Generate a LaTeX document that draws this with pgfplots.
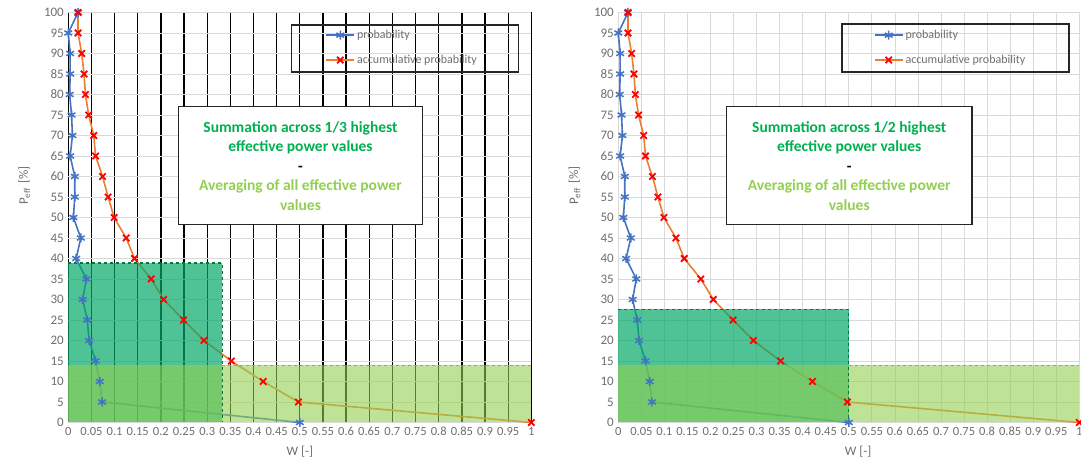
\documentclass[border=0pt]{standalone}
\usepackage{fontspec}
\setmainfont{Carlito}
\usepackage{pgfplots}
\usepackage{pgfplotstable}
\pgfplotsset{compat=1.18}
\definecolor{pblue}{RGB}{68,114,196}
\definecolor{porange}{RGB}{237,125,49}
\definecolor{pred}{RGB}{255,0,0}
\definecolor{dkfill}{RGB}{5,169,105}
\definecolor{dkborder}{RGB}{0,120,60}
\definecolor{ltfill}{RGB}{146,208,80}
\definecolor{ltborder}{RGB}{140,170,120}
\definecolor{tgray}{RGB}{110,110,110}
\definecolor{gridgray}{RGB}{217,217,217}
\definecolor{txtgreen}{RGB}{0,176,80}
\definecolor{txtlight}{RGB}{146,208,80}

\pgfplotstableread{
w p
0.021 100
0.000 95
0.004 90
0.004 85
0.003 80
0.007 75
0.009 70
0.004 65
0.014 60
0.014 55
0.011 50
0.027 45
0.017 40
0.039 35
0.031 30
0.041 25
0.045 20
0.059 15
0.068 10
0.073 5
0.500 0
}\prob

\pgfplotstableread{
w p
0.021 100
0.021 95
0.029 90
0.034 85
0.037 80
0.044 75
0.055 70
0.059 65
0.074 60
0.086 55
0.099 50
0.125 45
0.143 40
0.179 35
0.206 30
0.249 25
0.293 20
0.352 15
0.421 10
0.497 5
1.000 0
}\cum

\pgfplotsset{
  base/.style={
    scale only axis, height=410pt,
    xmin=0, xmax=1, ymin=0, ymax=100,
    clip=false,
    axis line style={draw=none},
    tick style={draw=none},
    xtick={0,0.05,0.1,0.15,0.2,0.25,0.3,0.35,0.4,0.45,0.5,0.55,0.6,0.65,0.7,0.75,0.8,0.85,0.9,0.95,1},
    ytick={0,5,10,15,20,25,30,35,40,45,50,55,60,65,70,75,80,85,90,95,100},
    /pgf/number format/assume math mode=true,
    xticklabel style={/pgf/number format/fixed, /pgf/number format/precision=2, yshift=-1pt, font=\fontsize{12.5}{14}\selectfont},
    yticklabel style={xshift=-1pt, font=\fontsize{13}{15}\selectfont},
    tick label style={text=tgray},
    xmajorgrids, ymajorgrids,
    xlabel={W [-]},
    ylabel={P\textsubscript{eff}\,\,[\%]},
    label style={font=\fontsize{13}{15}\selectfont, text=tgray},
    ylabel style={at={(axis description cs:-0.095,0.578)}, anchor=center},
    legend cell align=left,
    legend style={draw=none, fill=none, inner sep=0pt, anchor=north west,
      font=\fontsize{12}{14}\selectfont, text=tgray, row sep=11pt},
    legend image code/.code={\draw[mark repeat=2,mark phase=2,##1] plot coordinates {(0pt,0pt)(14pt,0pt)(28pt,0pt)};},
  },
  pb/.style={pblue, line width=1.6pt, mark=asterisk, mark size=4.5pt, mark options={line width=1.5pt}},
  pc/.style={porange, line width=1.6pt, mark=x, mark size=4.5pt, mark options={pred, line width=1.8pt}},
}

\begin{document}
\begin{tikzpicture}
\path[use as bounding box] (0,0) rectangle (1081pt,460pt);

% left chart
\begin{axis}[base, at={(68.3pt,37.5pt)}, anchor=south west, width=463pt,
  major x grid style={black, line width=1.3pt},
  major y grid style={gridgray, line width=0.8pt},
  xlabel style={at={(axis description cs:0.5,-0.07)}, anchor=center},
  legend style={at={(axis description cs:0.555,0.962)}}]
\addplot[pb] table {\prob};
\addlegendentry{probability}
\addplot[pc] table {\cum};
\addlegendentry{accumulative probability}
\addplot[draw=none, fill=dkfill, fill opacity=0.7, forget plot] coordinates {(0,0) (0.333,0) (0.333,38.9) (0,38.9)} -- cycle;
\addplot[draw=none, fill=ltfill, fill opacity=0.6, forget plot] coordinates {(0,0) (1,0) (1,14) (0,14)} -- cycle;
\addplot[dkborder, dashed, line width=1.2pt, forget plot] coordinates {(0,38.9) (0.333,38.9) (0.333,0)};
\addplot[ltborder, dashed, line width=1pt, forget plot] coordinates {(0.333,14) (1,14)};
\addplot[black, dashed, line width=1.2pt, forget plot] coordinates {(1,14) (1,0)};
\draw[black!85, line width=1.4pt] (axis description cs:0.482,0.9695) rectangle (axis description cs:0.972,0.855);
\draw[black!85, line width=1.4pt, fill=white] (axis description cs:0.238,0.771) rectangle (axis description cs:0.765,0.483);
\node[align=center, font=\fontsize{15.5}{19.5}\selectfont\bfseries] at (axis description cs:0.5015,0.626)
 {\textcolor{txtgreen}{Summation across 1/3 highest}\\ \textcolor{txtgreen}{effective power values}\\ -\\ \textcolor{txtlight}{Averaging of all effective power}\\ \textcolor{txtlight}{values}};
\end{axis}

% right chart
\begin{axis}[base, at={(618.3pt,37.5pt)}, anchor=south west, width=461pt,
  major x grid style={gridgray, line width=0.8pt},
  major y grid style={gridgray, line width=0.8pt},
  xlabel style={at={(axis description cs:0.52,-0.07)}, anchor=center},
  legend style={at={(axis description cs:0.554,0.962)}}]
\addplot[pb] table {\prob};
\addlegendentry{probability}
\addplot[pc] table {\cum};
\addlegendentry{accumulative probability}
\addplot[draw=none, fill=dkfill, fill opacity=0.7, forget plot] coordinates {(0,0) (0.5,0) (0.5,27.6) (0,27.6)} -- cycle;
\addplot[draw=none, fill=ltfill, fill opacity=0.6, forget plot] coordinates {(0,0) (1,0) (1,14) (0,14)} -- cycle;
\addplot[dkborder, dashed, line width=1.2pt, forget plot] coordinates {(0,27.6) (0.5,27.6) (0.5,0)};
\addplot[ltborder, dashed, line width=1pt, forget plot] coordinates {(0.5,14) (1,14)};
\draw[black!85, line width=1.4pt] (axis description cs:0.485,0.972) rectangle (axis description cs:0.978,0.855);
\draw[black!85, line width=1.4pt, fill=white] (axis description cs:0.235,0.771) rectangle (axis description cs:0.767,0.483);
\node[align=center, font=\fontsize{15.5}{19.5}\selectfont\bfseries] at (axis description cs:0.501,0.626)
 {\textcolor{txtgreen}{Summation across 1/2 highest}\\ \textcolor{txtgreen}{effective power values}\\ -\\ \textcolor{txtlight}{Averaging of all effective power}\\ \textcolor{txtlight}{values}};
\end{axis}
\end{tikzpicture}
\end{document}
